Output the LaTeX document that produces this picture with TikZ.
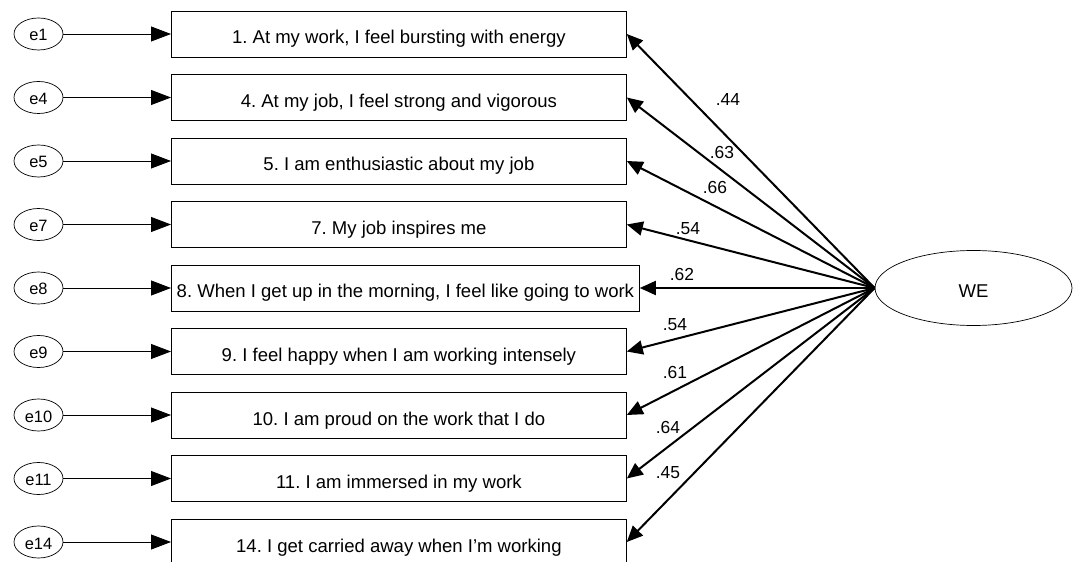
\documentclass[tikz,border=0pt]{standalone}
\usepackage{fontspec}
\setmainfont{Liberation Sans}
\usetikzlibrary{arrows.meta,shapes.geometric}
\frenchspacing
\begin{document}
\begin{tikzpicture}[x=1bp,y=-1bp,
  every node/.style={font=\fontsize{18.6}{20}\selectfont},
  item/.style={draw, line width=0.8bp, minimum height=46bp, minimum width=455bp,
    anchor=west, inner sep=0pt, text height=20bp, text depth=0pt},
  err/.style={draw, ellipse, minimum width=49bp, minimum height=32bp, inner sep=0pt,
    line width=0.7bp, font=\fontsize{16.5}{18}\selectfont, text height=14bp, text depth=0pt},
  errarrow/.style={line width=0.8bp, -{Triangle[length=20bp,width=15bp]}},
  load/.style={line width=2bp, -{Triangle[length=16bp,width=14bp]}},
  coef/.style={inner sep=0pt, font=\fontsize{17.5}{19}\selectfont}
]
\useasboundingbox (0,0) rectangle (1077,562);
\clip (0,0) rectangle (1077,562);

% indicator boxes
\node[item] (b1)  at (171,34)    {1. At my work, I feel bursting with energy};
\node[item] (b4)  at (171,97.5)  {4. At my job, I feel strong and vigorous};
\node[item] (b5)  at (171,161)   {5. I am enthusiastic about my job};
\node[item] (b7)  at (171,224.5) {7. My job inspires me};
\node[item, minimum width=468bp] (b8) at (171,288) {8. When I get up in the morning, I feel like going to work};
\node[item] (b9)  at (171,351.5) {9. I feel happy when I am working intensely};
\node[item] (b10) at (171,415)   {10. I am proud on the work that I do};
\node[item] (b11) at (171,478.5) {11. I am immersed in my work};
\node[item] (b14) at (171,542)   {14. I get carried away when I'm working};

% error terms
\foreach \e/\y in {1/34,4/97.5,5/161,7/224.5,8/288,9/351.5,10/415,11/478.5,14/542}{
  \node[err] (e\e) at (38.5,\y) {e\e};
  \draw[errarrow] (e\e.east) -- (b\e.west);
}

% latent factor
\node[draw, ellipse, minimum width=197bp, minimum height=75bp, line width=0.7bp,
  text height=20bp, text depth=0pt] (we) at (973.5,288) {WE};

% loadings
\foreach \b in {1,4,5,7,8,9,10,11,14}{
  \draw[load] (we.west) -- (b\b.east);
}

% standardized coefficients
\node[coef] (c1)  at (728,100) {.44};
\node[coef] (c4)  at (722,153) {.63};
\node[coef] (c5)  at (715,188) {.66};
\node[coef] (c7)  at (688,229) {.54};
\node[coef] (c8)  at (682,274) {.62};
\node[coef] (c9)  at (675,325) {.54};
\node[coef] (c10) at (675,372) {.61};
\node[coef] (c11) at (668,427) {.64};
\node[coef] (c14) at (668,473) {.45};
\end{tikzpicture}
\end{document}
